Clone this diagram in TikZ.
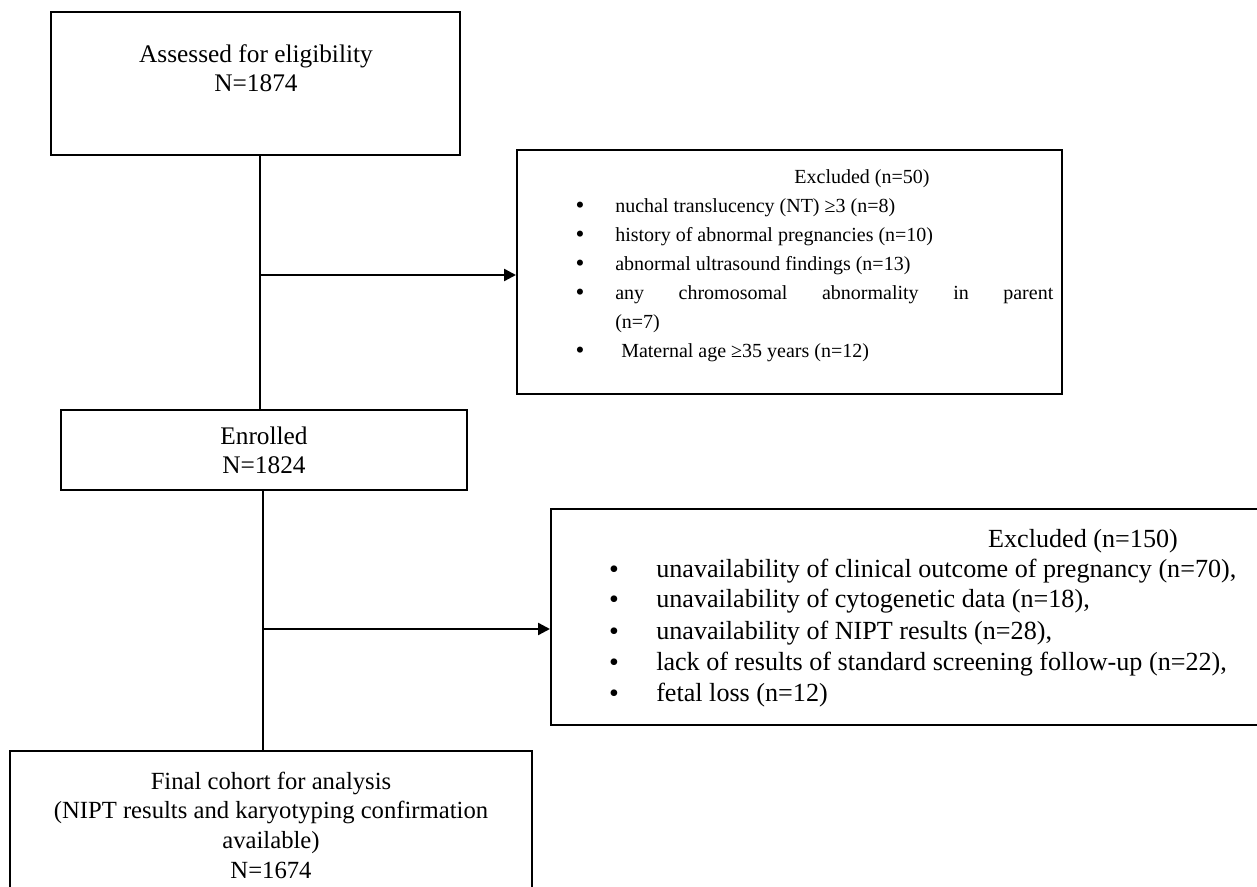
\documentclass[tikz,border=0pt]{standalone}
\usepackage{fontspec}
\setmainfont{Liberation Serif}
\usetikzlibrary{arrows.meta}
\begin{document}
\begin{tikzpicture}[x=0.75pt,y=-0.75pt,
  box/.style={draw=black,line width=1.5pt,fill=none,inner sep=0pt},
  conn/.style={draw=black,line width=1.8pt},
  arr/.style={conn,-{Triangle[length=9pt,width=9pt]}},
  txt/.style={inner sep=0pt,anchor=base},
  big/.style={txt,font=\fontsize{19}{22}\selectfont},
  fin/.style={txt,font=\fontsize{18.5}{22}\selectfont},
  small/.style={txt,font=\fontsize{15}{20}\selectfont},
  smallL/.style={small,anchor=base west},
  sbul/.style={txt,font=\fontsize{19}{19}\selectfont},
  lrg/.style={txt,font=\fontsize{19.6}{22}\selectfont},
  lrgL/.style={lrg,anchor=base west},
  lbul/.style={txt,font=\fontsize{21}{21}\selectfont}]
\useasboundingbox (0,0) rectangle (1257,887);
\clip (0,0) rectangle (1257,887);
% boxes
\node[box,minimum width=409*0.75pt,minimum height=143*0.75pt] (b1) at (255.5,83.5) {};
\node[box,minimum width=545*0.75pt,minimum height=244*0.75pt] (b2) at (789.5,272) {};
\node[box,minimum width=406*0.75pt,minimum height=80*0.75pt] (b3) at (264,450) {};
\node[box,minimum width=749*0.75pt,minimum height=216*0.75pt] (b4) at (925.5,617) {};
\node[box,minimum width=522*0.75pt,minimum height=170*0.75pt] (b5) at (271,836) {};
\coordinate (x1) at (260,0);
\coordinate (x2) at (263,0);
\coordinate (j1) at (260,275);
\coordinate (j2) at (263,629);
% texts box1
\node[big] (t1a) at (256,63) {Assessed for eligibility};
\node[big] (t1b) at (256,92) {N=1874};
% box2
\node[small] (t2h) at (862,184) {Excluded (n=50)};
\node[sbul] (u21) at (580,214) {•};
\node[smallL] (t21) at (615,213) {nuchal translucency (NT) ≥3 (n=8)};
\node[sbul] (u22) at (580,243) {•};
\node[smallL] (t22) at (615,242) {history of abnormal pregnancies (n=10)};
\node[sbul] (u23) at (580,272) {•};
\node[smallL] (t23) at (615,271) {abnormal ultrasound findings (n=13)};
\node[sbul] (u24) at (580,301) {•};
\node[smallL] (t24) at (615,300) {\makebox[328.5pt][s]{any chromosomal abnormality in parent}};
\node[smallL] (t25) at (615,329) {(n=7)};
\node[sbul] (u26) at (580,359) {•};
\node[smallL] (t26) at (621,358) {Maternal age ≥35 years (n=12)};
% enrolled
\node[big] (t3a) at (264,445) {Enrolled};
\node[big] (t3b) at (264,474) {N=1824};
% box4
\node[lrg] (t4h) at (1083,548) {Excluded (n=150)};
\node[lbul] (u41) at (614,579) {•};
\node[lrgL] (t41) at (656,578) {unavailability of clinical outcome of pregnancy (n=70),};
\node[lbul] (u42) at (614,609) {•};
\node[lrgL] (t42) at (656,608) {unavailability of cytogenetic data (n=18),};
\node[lbul] (u43) at (614,640) {•};
\node[lrgL] (t43) at (656,639) {unavailability of NIPT results (n=28),};
\node[lbul] (u44) at (614,671) {•};
\node[lrgL] (t44) at (656,670) {lack of results of standard screening follow-up (n=22),};
\node[lbul] (u45) at (614,702) {•};
\node[lrgL] (t45) at (656,701) {fetal loss (n=12)};
% final
\node[fin] (t5a) at (271,789) {Final cohort for analysis};
\node[fin] (t5b) at (271,818) {(NIPT results and karyotyping confirmation};
\node[fin] (t5c) at (271,848) {available)};
\node[fin] (t5d) at (271,878) {N=1674};
% connectors
\draw[conn] (b1.south -| x1) -- (b3.north -| x1);
\draw[arr] (j1) -- (b2.west |- j1);
\draw[conn] (b3.south -| x2) -- (b5.north -| x2);
\draw[arr] (j2) -- (b4.west |- j2);
\end{tikzpicture}
\end{document}
